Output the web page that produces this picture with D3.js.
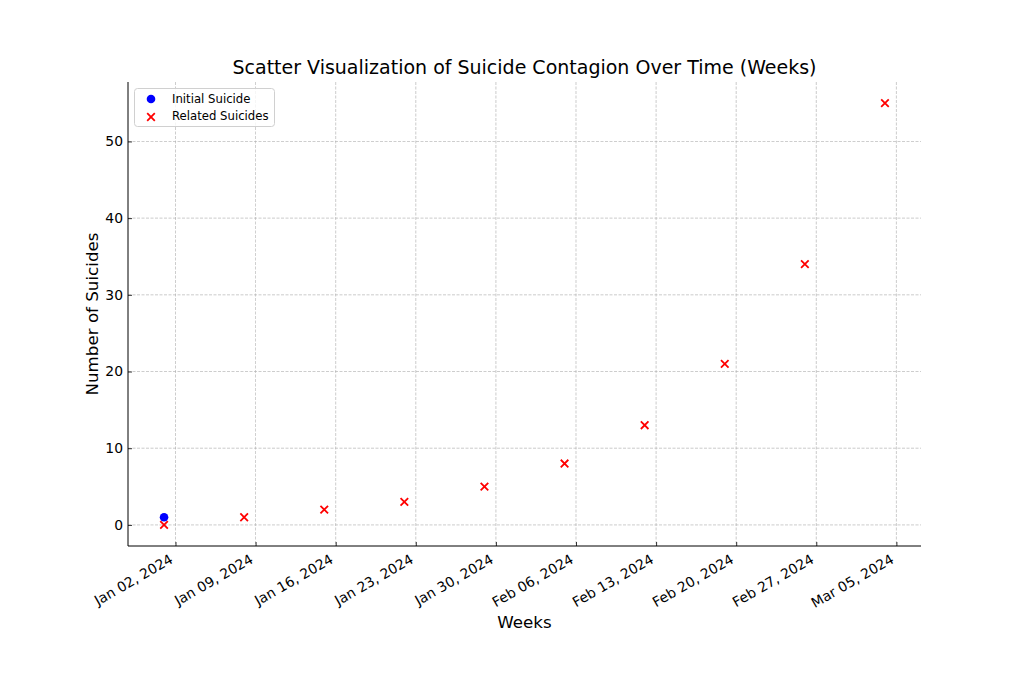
<!DOCTYPE html>
<html><head><meta charset="utf-8">
<script src="https://cdn.jsdelivr.net/npm/d3@7"></script>
<style>body{margin:0;background:#fff}svg{display:block}text{font-family:"DejaVu Sans",sans-serif;fill:#000}</style>
</head><body><svg id="c" width="1024" height="683"></svg>
<script>
const weeks = ["2024-01-01","2024-01-08","2024-01-15","2024-01-22","2024-01-29","2024-02-05","2024-02-12","2024-02-19","2024-02-26","2024-03-04"];
const relatedSuicides = [0,1,2,3,5,8,13,21,34,55];
const initialDate = ["2024-01-01"];
const initialSuicide = [1];
const xTickLabels = ["2024-01-02","2024-01-09","2024-01-16","2024-01-23","2024-01-30","2024-02-06","2024-02-13","2024-02-20","2024-02-27","2024-03-05"];
const yTicks = [0,10,20,30,40,50];

const parse = d3.utcParse("%Y-%m-%d");
const fmt = d3.utcFormat("%b %d, %Y");
const svg = d3.select("#c");
const L=128, R=921, T=82, B=546;
const dates = weeks.map(parse);
const dMin = d3.min(dates), dMax = d3.max(dates);
const span = dMax - dMin, pad = span*0.05;
const x = d3.scaleUtc().domain([new Date(+dMin-pad), new Date(+dMax+pad)]).range([L,R]);
const yMax = d3.max(relatedSuicides), yPad = yMax*0.05;
const y = d3.scaleLinear().domain([-yPad, yMax+yPad]).range([B,T]);

const g = svg.append("g");
// grid
const tickDates = xTickLabels.map(parse);
g.selectAll(".gx").data(tickDates).enter().append("line")
 .attr("x1",d=>x(d)).attr("x2",d=>x(d)).attr("y1",T).attr("y2",B)
 .attr("stroke","#b0b0b0").attr("stroke-width",0.8).attr("stroke-dasharray","3,1.5").attr("opacity",0.8);
g.selectAll(".gy").data(yTicks).enter().append("line")
 .attr("x1",L).attr("x2",R).attr("y1",d=>y(d)).attr("y2",d=>y(d))
 .attr("stroke","#b0b0b0").attr("stroke-width",0.8).attr("stroke-dasharray","3,1.5").attr("opacity",0.8);

// axes
const xa = svg.append("g").attr("transform",`translate(0,${B})`)
 .call(d3.axisBottom(x).tickValues(tickDates).tickFormat(fmt).tickSizeInner(-4).tickSizeOuter(0).tickPadding(8));
xa.select(".domain").remove();
xa.selectAll(".tick line").attr("stroke","#000").attr("stroke-width",0.8);
xa.selectAll(".tick text").attr("font-size",13.9).attr("text-anchor","end")
 .attr("y",0).attr("dy",0).attr("transform","translate(-2,16) rotate(-30)");
const ya = svg.append("g").attr("transform",`translate(${L},0)`)
 .call(d3.axisLeft(y).tickValues(yTicks).tickSizeInner(-4).tickSizeOuter(0).tickPadding(5));
ya.select(".domain").remove();
ya.selectAll(".tick line").attr("stroke","#000").attr("stroke-width",0.8);
ya.selectAll(".tick text").attr("font-size",13.9).attr("x",-5);
svg.selectAll(".tick text").attr("font-family","DejaVu Sans").attr("fill","#000");
svg.append("line").attr("x1",L).attr("x2",L).attr("y1",T).attr("y2",B).attr("stroke","#000").attr("stroke-width",1);
svg.append("line").attr("x1",L).attr("x2",R).attr("y1",B).attr("y2",B).attr("stroke","#000").attr("stroke-width",1);

// marks
const cross = (sel)=>{
 sel.each(function(d,i){
  const cx = x(dates[i]), cy = y(d), s=3.8;
  d3.select(this).append("path").attr("d",`M${cx-s},${cy-s}L${cx+s},${cy+s}M${cx-s},${cy+s}L${cx+s},${cy-s}`)
   .attr("stroke","red").attr("stroke-width",1.8);
 });
};
svg.append("g").selectAll("g").data(relatedSuicides).enter().append("g").call(cross);
svg.append("g").selectAll("circle").data(initialSuicide).enter().append("circle")
 .attr("cx",(d,i)=>x(parse(initialDate[i]))).attr("cy",d=>y(d)).attr("r",4.3).attr("fill","blue");

// title & labels
svg.append("text").attr("x",(L+R)/2).attr("y",74).attr("text-anchor","middle").attr("font-size",19)
 .text("Scatter Visualization of Suicide Contagion Over Time (Weeks)");
svg.append("text").attr("x",(L+R)/2).attr("y",628).attr("text-anchor","middle").attr("font-size",16.7).text("Weeks");
svg.append("text").attr("transform",`translate(98,${(T+B)/2}) rotate(-90)`).attr("text-anchor","middle").attr("font-size",16.7).text("Number of Suicides");

// legend
const lg = svg.append("g");
lg.append("rect").attr("x",134.5).attr("y",88.5).attr("width",140).attr("height",38).attr("rx",3)
 .attr("fill","#fff").attr("fill-opacity",0.8).attr("stroke","#d0d0d0").attr("stroke-width",1);
lg.append("circle").attr("cx",151).attr("cy",99).attr("r",4.3).attr("fill","blue");
const lx=151, ly=117, s=3.8;
lg.append("path").attr("d",`M${lx-s},${ly-s}L${lx+s},${ly+s}M${lx-s},${ly+s}L${lx+s},${ly-s}`).attr("stroke","red").attr("stroke-width",1.8);
lg.append("text").attr("x",172).attr("y",102.5).attr("font-size",11.7).text("Initial Suicide");
lg.append("text").attr("x",172).attr("y",120).attr("font-size",11.7).text("Related Suicides");
</script></body></html>
